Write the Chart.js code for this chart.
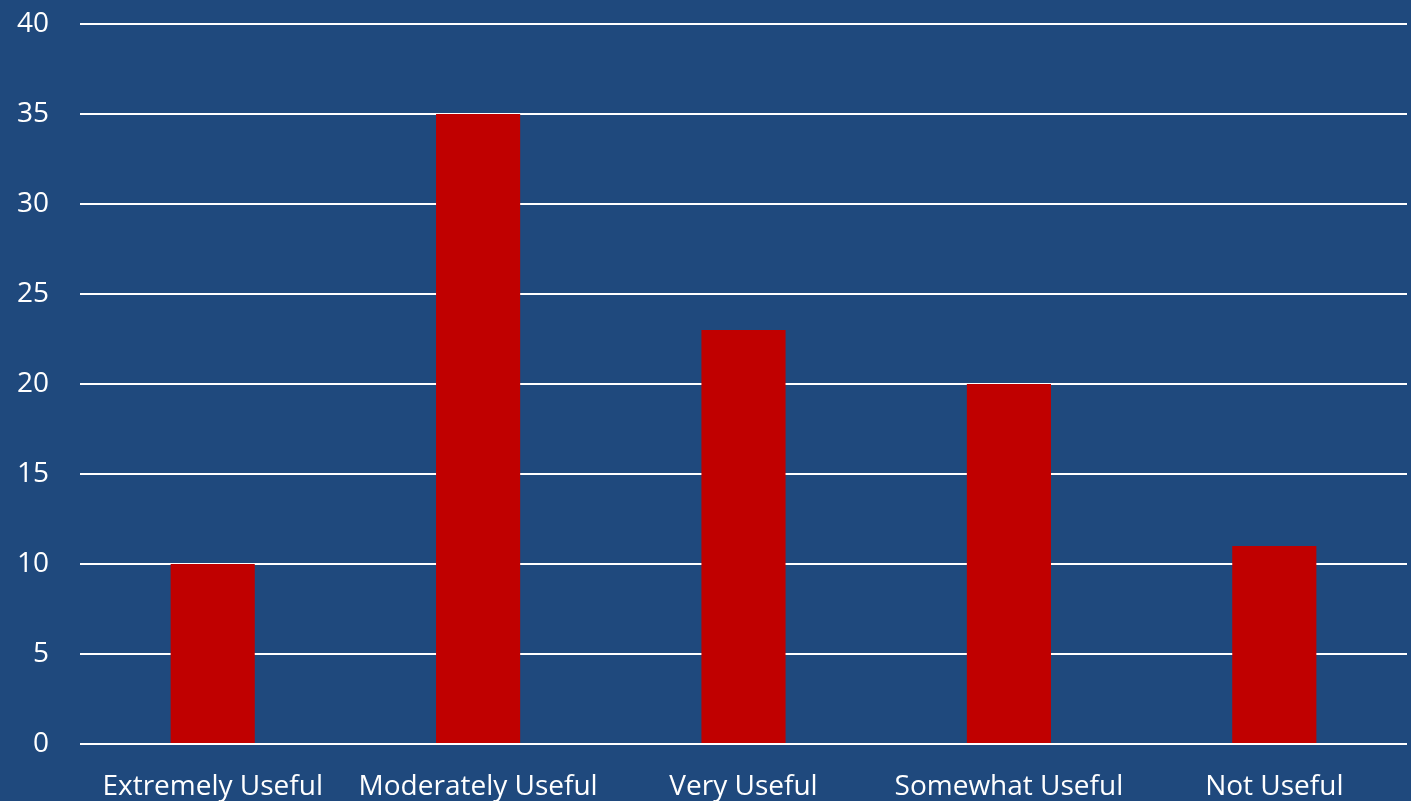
<!DOCTYPE html>
<html>
<head>
<meta charset="utf-8">
<script src="https://cdn.jsdelivr.net/npm/chart.js@4/dist/chart.umd.min.js"></script>
<style>
  html, body { margin: 0; padding: 0; background: #1f497d; }
  #wrap { width: 1411px; height: 801px; }
</style>
</head>
<body>
<div id="wrap"><canvas id="usefulChart"></canvas></div>
<script>
// Chart values
const categories = ['Extremely Useful', 'Moderately Useful', 'Very Useful', 'Somewhat Useful', 'Not Useful'];
const counts = [10, 35, 23, 20, 11];
const yTicks = [0, 5, 10, 15, 20, 25, 30, 35, 40];

const ctx = document.getElementById('usefulChart');

new Chart(ctx, {
  type: 'bar',
  data: {
    labels: categories,
    datasets: [{
      label: 'Responses',
      data: counts,
      backgroundColor: '#c00000',
      borderWidth: 0,
      barPercentage: 0.317,
      categoryPercentage: 1
    }]
  },
  options: {
    responsive: true,
    maintainAspectRatio: false,
    animation: false,
    layout: {
      padding: { top: 24, right: 4, left: 0, bottom: 0 }
    },
    plugins: {
      legend: { display: false },
      tooltip: { enabled: false }
    },
    scales: {
      x: {
        grid: { display: false },
        border: { display: false },
        ticks: {
          color: '#ffffff',
          font: { family: 'Open Sans', size: 28 },
          padding: 18,
          maxRotation: 0
        },
        afterFit: (scale) => { scale.height = 57; }
      },
      y: {
        min: 0,
        max: 40,
        afterBuildTicks: (scale) => {
          scale.ticks = yTicks.map(v => ({ value: v }));
        },
        grid: {
          color: '#ffffff',
          lineWidth: 2,
          drawTicks: false
        },
        border: { display: false },
        ticks: {
          color: '#ffffff',
          font: { family: 'Open Sans', size: 28 },
          padding: 31
        },
        afterFit: (scale) => {
          scale.width = 80;
          // tick padding would otherwise push the top gridline down
          scale.paddingTop = 0;
          scale.paddingBottom = 0;
        }
      }
    }
  }
});
</script>
</body>
</html>
